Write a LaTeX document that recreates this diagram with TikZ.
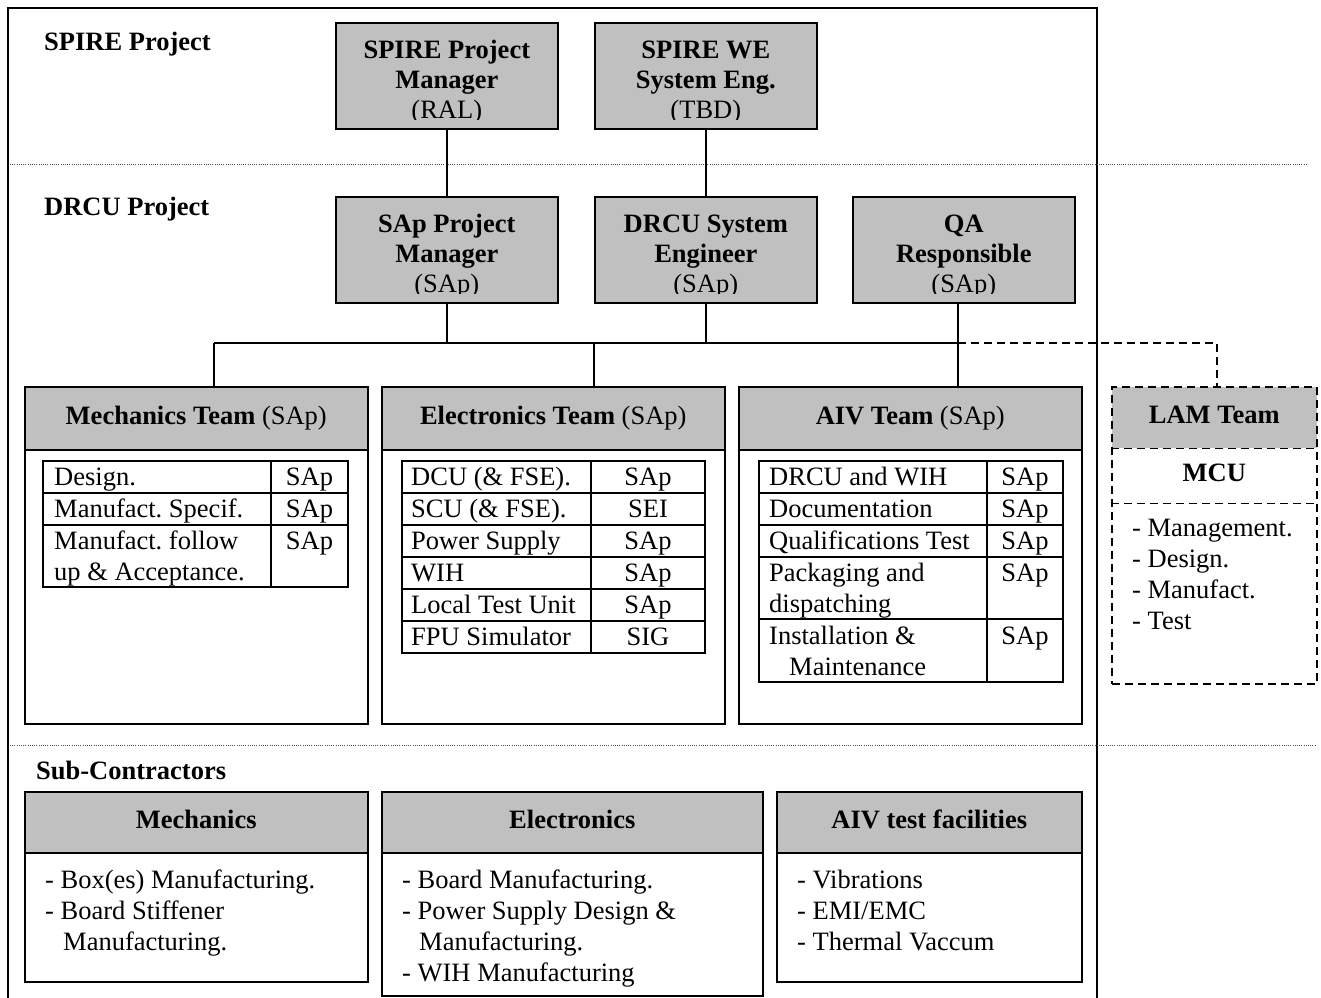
\documentclass[tikz,border=0pt]{standalone}
\usepackage{fontspec}
\setmainfont{Liberation Serif}
\usetikzlibrary{calc}
\definecolor{hdr}{HTML}{C0C0C0}
\newcommand{\dfont}{\fontsize{26.5}{31}\selectfont\frenchspacing}
\newcommand{\threebox}[6]{%
  \node[topbox] (#1) at (#2,#3) {};
  \begin{scope}
    \clip (#2,#3) rectangle ++(222,97);
    \node[tb] (#1a) at ($(#1.north)+(0,36)$) {#4};
    \node[tb] (#1b) at ($(#1.north)+(0,66)$) {#5};
    \node[t]  (#1c) at ($(#1.north)+(0,96)$) {#6};
  \end{scope}}
\begin{document}
\begin{tikzpicture}[x=1pt,y=-1pt,
  frame/.style={line width=1.6pt},
  topbox/.style={draw, line width=1.6pt, fill=hdr, rectangle, inner sep=0pt, anchor=north west, minimum width=222pt, minimum height=106pt},
  body/.style={draw, line width=1.5pt, rectangle, inner sep=0pt, anchor=north west},
  head/.style={draw, line width=1.5pt, fill=hdr, rectangle, inner sep=0pt, anchor=north west, font=\dfont, text height=18pt, text depth=6pt},
  t/.style={font=\dfont, inner sep=0pt, anchor=base},
  tb/.style={font=\dfont\bfseries, inner sep=0pt, anchor=base},
  tl/.style={font=\dfont, inner sep=0pt, anchor=base west},
  tlb/.style={font=\dfont\bfseries, inner sep=0pt, anchor=base west},
  tab/.style={line width=1.6pt},
  sepline/.style={line width=0.9pt, black!70, dash pattern=on 1pt off 1.2pt},
  conn/.style={line width=1.5pt},
  dconn/.style={line width=1.5pt, dash pattern=on 8pt off 5pt},
]
\useasboundingbox (0,0) rectangle (1321,997);

% outer frame and separators
\draw[frame] (8,1000) -- (8,8) -- (1097,8) -- (1097,1000);
\draw[sepline] (10,164) -- (1308,164);
\draw[sepline] (10,745) -- (1315,745);

% section labels
\node[tlb] (lspire) at (44,50) {SPIRE Project};
\node[tlb] (ldrcu) at (44,215) {DRCU Project};
\node[tlb] (lsub) at (36,779) {Sub-Contractors};

% top boxes
\threebox{pm}{335}{22}{SPIRE Project}{Manager}{(RAL)}
\threebox{we}{594}{22}{SPIRE WE}{System Eng.}{(TBD)}
\threebox{sapm}{335}{196}{SAp Project}{Manager}{(SAp)}
\threebox{se}{594}{196}{DRCU System}{Engineer}{(SAp)}
\threebox{qa}{852}{196}{QA}{Responsible}{(SAp)}

% team boxes
\node[body, minimum width=343pt, minimum height=337pt] (mech) at (24,386) {};
\node[head, minimum width=343pt, minimum height=63pt] (mechh) at (24,386) {\textbf{Mechanics Team} (SAp)};
\node[body, minimum width=343pt, minimum height=337pt] (elec) at (381,386) {};
\node[head, minimum width=343pt, minimum height=63pt] (elech) at (381,386) {\textbf{Electronics Team} (SAp)};
\node[body, minimum width=343pt, minimum height=337pt] (aiv) at (738,386) {};
\node[head, minimum width=343pt, minimum height=63pt] (aivh) at (738,386) {\textbf{AIV Team} (SAp)};

% LAM team (dashed)
\node[head, draw=none, minimum width=205pt, minimum height=61pt] (lamh) at (1111,386) {\textbf{LAM Team}};
\node[body, dconn, minimum width=205pt, minimum height=297pt] (lam) at (1111,386) {};
\node[head, draw=none, fill=none, minimum width=205pt, minimum height=55pt] (mcu) at (1111,447) {\textbf{MCU}};
\draw[dconn] (lamh.south west) -- (lamh.south east);
\draw[dconn] (mcu.south west) -- (mcu.south east);
\node[tl] (lam1) at (1132,536) {- Management.};
\node[tl] (lam2) at (1132,567) {- Design.};
\node[tl] (lam3) at (1132,598) {- Manufact.};
\node[tl] (lam4) at (1132,629) {- Test};

% connectors
\coordinate (bm) at (214,343);
\coordinate (be) at (594,343);
\coordinate (bq) at (958,343);
\coordinate (bl) at (1217,343);
\draw[conn] (pm.south) -- (sapm.north);
\draw[conn] (we.south) -- (se.north);
\draw[conn] (sapm.south) -- (sapm.south |- bm);
\draw[conn] (se.south) -- (se.south |- bm);
\draw[conn] (bm) -- (bq);
\draw[conn] (bq |- qa.south) -- (bq |- aivh.north);
\draw[conn] (bm) -- (bm |- mechh.north);
\draw[conn] (be) -- (be |- elech.north);
\draw[dconn] (bq) -- (bl) -- (bl |- lamh.north);

% Mechanics table
\draw[tab] (43,461) rectangle (348,587);
\draw[tab] (271,461) -- (271,587);
\draw[tab] (43,493) -- (348,493);
\draw[tab] (43,525) -- (348,525);
\node[tl] (mt1) at (54,485) {Design.};
\node[t] (mt1s) at (309.5,485) {SAp};
\node[tl] (mt2) at (54,517) {Manufact. Specif.};
\node[t] (mt2s) at (309.5,517) {SAp};
\node[tl] (mt3) at (54,549) {Manufact. follow};
\node[tl] (mt3b) at (54,580) {up \& Acceptance.};
\node[t] (mt3s) at (309.5,549) {SAp};

% Electronics table
\draw[tab] (402,461) rectangle (705,653);
\draw[tab] (591,461) -- (591,653);
\foreach \yy in {493,525,557,589,621} {\draw[tab] (402,\yy) -- (705,\yy);}
\node[tl] (et1) at (411,485) {DCU (\& FSE).};
\node[t] (et1s) at (648,485) {SAp};
\node[tl] (et2) at (411,517) {SCU (\& FSE).};
\node[t] (et2s) at (648,517) {SEI};
\node[tl] (et3) at (411,549) {Power Supply};
\node[t] (et3s) at (648,549) {SAp};
\node[tl] (et4) at (411,581) {WIH};
\node[t] (et4s) at (648,581) {SAp};
\node[tl] (et5) at (411,613) {Local Test Unit};
\node[t] (et5s) at (648,613) {SAp};
\node[tl] (et6) at (411,645) {FPU Simulator};
\node[t] (et6s) at (648,645) {SIG};

% AIV table
\draw[tab] (759,461) rectangle (1063,682);
\draw[tab] (987,461) -- (987,682);
\foreach \yy in {493,525,557,619} {\draw[tab] (759,\yy) -- (1063,\yy);}
\node[tl] (at1) at (769,485) {DRCU and WIH};
\node[t] (at1s) at (1025,485) {SAp};
\node[tl] (at2) at (769,517) {Documentation};
\node[t] (at2s) at (1025,517) {SAp};
\node[tl] (at3) at (769,549) {Qualifications Test};
\node[t] (at3s) at (1025,549) {SAp};
\node[tl] (at4) at (769,581) {Packaging and};
\node[tl] (at4b) at (769,612) {dispatching};
\node[t] (at4s) at (1025,581) {SAp};
\node[tl] (at5) at (769,644) {Installation \&};
\node[tl] (at5b) at (789,675) {Maintenance};
\node[t] (at5s) at (1025,644) {SAp};

% Sub-contractor boxes
\node[body, minimum width=343pt, minimum height=190pt] (smech) at (24,791) {};
\node[head, minimum width=343pt, minimum height=61pt] (smechh) at (24,791) {\textbf{Mechanics}};
\node[body, minimum width=381pt, minimum height=204pt] (selec) at (381,791) {};
\node[head, minimum width=381pt, minimum height=61pt] (selech) at (381,791) {\textbf{Electronics}};
\node[body, minimum width=305pt, minimum height=190pt] (saiv) at (776,791) {};
\node[head, minimum width=305pt, minimum height=61pt] (saivh) at (776,791) {\textbf{AIV test facilities}};

\node[tl] (sm1) at (45,888) {- Box(es) Manufacturing.};
\node[tl] (sm2) at (45,919) {- Board Stiffener};
\node[tl] (sm3) at (63,950) {Manufacturing.};

\node[tl] (se1) at (402,888) {- Board Manufacturing.};
\node[tl] (se2) at (402,919) {- Power Supply Design \&};
\node[tl] (se3) at (419,950) {Manufacturing.};
\node[tl] (se4) at (402,981) {- WIH Manufacturing};

\node[tl] (sa1) at (797,888) {- Vibrations};
\node[tl] (sa2) at (797,919) {- EMI/EMC};
\node[tl] (sa3) at (797,950) {- Thermal Vaccum};
\end{tikzpicture}
\end{document}
